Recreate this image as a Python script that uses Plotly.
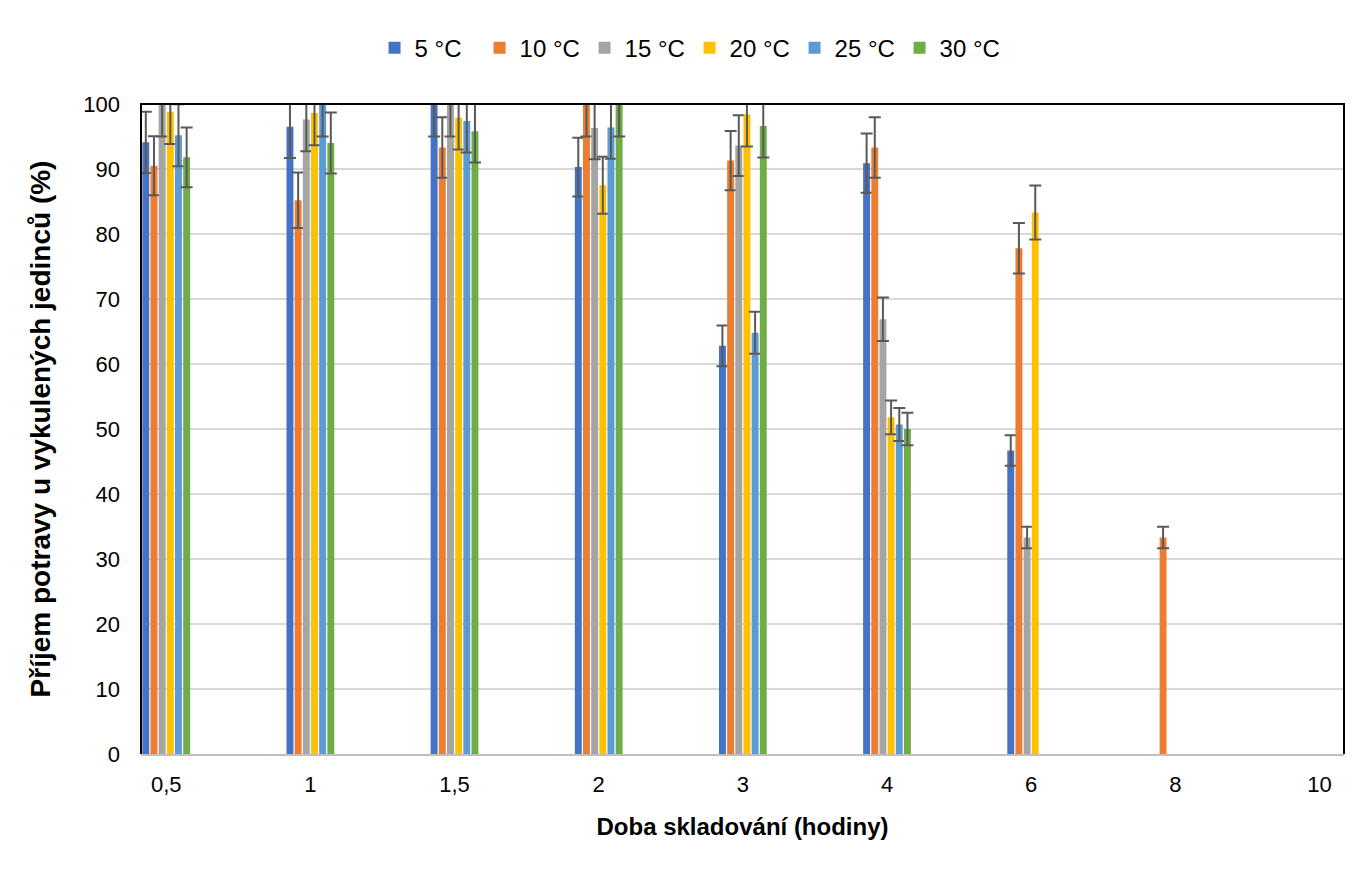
import plotly.graph_objects as go

categories = ["0,5", "1", "1,5", "2", "3", "4", "6", "8", "10"]
series_names = ["5 °C", "10 °C", "15 °C", "20 °C", "25 °C", "30 °C"]
t5 = [94.1, 96.5, 100, 90.3, 62.8, 90.9, 46.7, 0, 0]
t10 = [90.5, 85.2, 93.3, 100, 91.3, 93.3, 77.8, 33.3, 0]
t15 = [100, 97.6, 100, 96.3, 93.6, 66.9, 33.3, 0, 0]
t20 = [98.8, 98.6, 97.9, 87.5, 98.4, 51.8, 83.3, 0, 0]
t25 = [95.2, 100, 97.4, 96.4, 64.8, 50.7, 0, 0, 0]
t30 = [91.8, 94.0, 95.8, 100, 96.6, 50.0, 0, 0, 0]
error_percent = 5
colors = ["#4472C4", "#ED7D31", "#A5A5A5", "#FFC000", "#5B9BD5", "#70AD47"]

fig = go.Figure()
for name, vals, col in zip(series_names, [t5, t10, t15, t20, t25, t30], colors):
    # zero values are drawn as empty (no bar, no error cap), as in the original
    yv = [v if v else None for v in vals]
    fig.add_trace(go.Bar(
        x=categories, y=yv, name=name,
        marker=dict(color=col, line=dict(width=0)),
        error_y=dict(type="percent", value=error_percent, color="#595959",
                     thickness=2, width=6),
    ))

font_main = "Liberation Sans, Arial"
fig.update_layout(
    width=1366, height=870,
    paper_bgcolor="white", plot_bgcolor="white",
    margin=dict(l=133, r=30, t=96, b=124),
    barmode="group", bargap=0.66, bargroupgap=0.15,
    showlegend=True,
    legend=dict(orientation="h", x=0.456, xanchor="center", y=1.086, yanchor="middle",
                font=dict(family=font_main, size=24, color="#000000"),
                itemwidth=30, traceorder="normal",
                entrywidth=60, entrywidthmode="pixels"),
    xaxis=dict(type="category", range=[-0.175, 8.17], showgrid=False,
               showline=True, linecolor="#BFBFBF", linewidth=2,
               tickfont=dict(family=font_main, size=22, color="#000000"),
               ticks="", ticklabelstandoff=10,
               title=dict(text="<b>Doba skladování (hodiny)</b>",
                          font=dict(family=font_main, size=24, color="#000000"),
                          standoff=22)),
    yaxis=dict(range=[0, 100], dtick=10, showgrid=True, gridcolor="#D9D9D9", gridwidth=2,
               zeroline=False, showline=False,
               tickfont=dict(family=font_main, size=22, color="#000000"),
               ticks="", ticklabelstandoff=20,
               title=dict(text="<b>Příjem potravy u vykulených jedinců (%)</b>",
                          font=dict(family=font_main, size=28, color="#000000"),
                          standoff=24)),
    shapes=[dict(type="path", xref="paper", yref="paper",
                 path="M 0 0 L 0 1 L 1 1 L 1 0",
                 line=dict(color="#000000", width=2), layer="above")],
)

fig.write_html("out.html")
